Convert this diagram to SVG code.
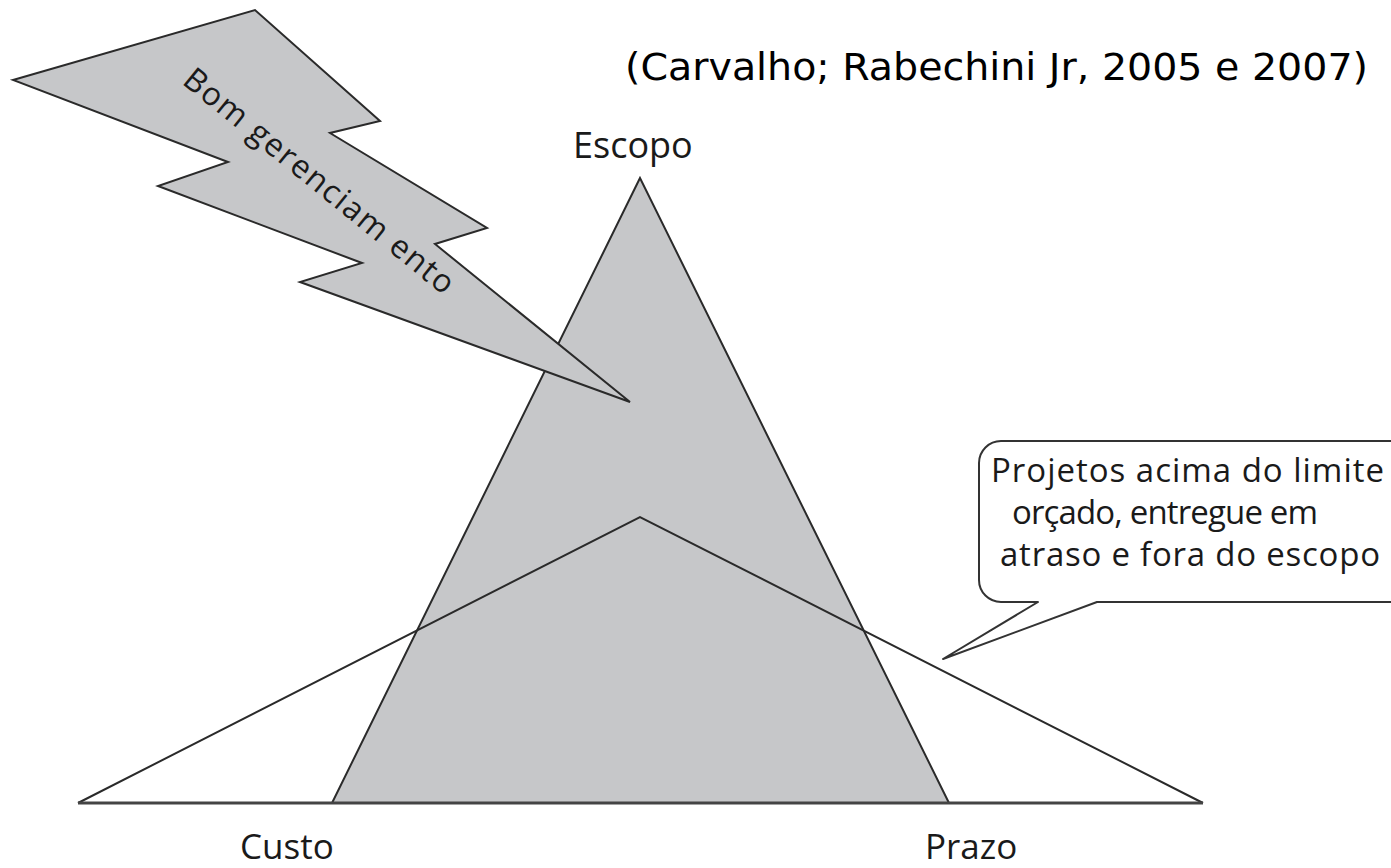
<svg xmlns="http://www.w3.org/2000/svg" width="1391" height="868" viewBox="0 0 1391 868">
<style>
.shade{fill:#c6c7c9;stroke:#2a2a2a;stroke-width:2;stroke-linejoin:miter}
.line{fill:none;stroke:#2a2a2a;stroke-width:2;stroke-linejoin:miter}
.base{fill:none;stroke:#444;stroke-width:3}
.lbl{font-family:"Open Sans","Noto Sans","DejaVu Sans",sans-serif;fill:#1a1a1a}
.title{font-family:"DejaVu Sans","Liberation Sans",sans-serif;fill:#000}
.callout{fill:#fff;stroke:#333;stroke-width:2;stroke-linejoin:round}
</style>
<rect width="1391" height="868" fill="#fff"/>
<g id="escopo-triangle">
<polygon class="shade" points="640,178 332,803 949,803"/>
</g>
<g id="custo-prazo-triangle">
<polyline class="line" points="78,803 640,517 1203,803"/>
<line class="base" x1="78" y1="803" x2="1203" y2="803"/>
</g>
<g id="lightning">
<polygon class="shade" points="13,80 255,10 380,121 330,133 487,228 435,244 630,402 300,282 362,263 158,186 228,162"/>
<text class="lbl" font-size="32" transform="translate(181,83) rotate(39)" textLength="338" lengthAdjust="spacing">Bom gerenciam ento</text>
</g>
<g id="callout">
<path class="callout" d="M1001,441 H1400 V602 H1097 L943,659 L1038,602 H1001 A22,22 0 0 1 979,580 V463 A22,22 0 0 1 1001,441 Z"/>
<text class="lbl" font-size="33">
<tspan x="991" y="482" textLength="393" lengthAdjust="spacing">Projetos acima do limite</tspan>
<tspan x="1012" y="524" textLength="306" lengthAdjust="spacing">orçado, entregue em</tspan>
<tspan x="1000" y="566" textLength="380" lengthAdjust="spacing">atraso e fora do escopo</tspan>
</text>
</g>
<g id="labels">
<text class="lbl" font-size="36" x="573" y="158">Escopo</text>
<text class="lbl" font-size="35" x="240" y="859">Custo</text>
<text class="lbl" font-size="35" x="925" y="859">Prazo</text>
</g>
<g id="title">
<text class="title" font-size="37" x="625" y="80" textLength="743" lengthAdjust="spacingAndGlyphs">(Carvalho; Rabechini Jr, 2005 e 2007)</text>
</g>
</svg>
